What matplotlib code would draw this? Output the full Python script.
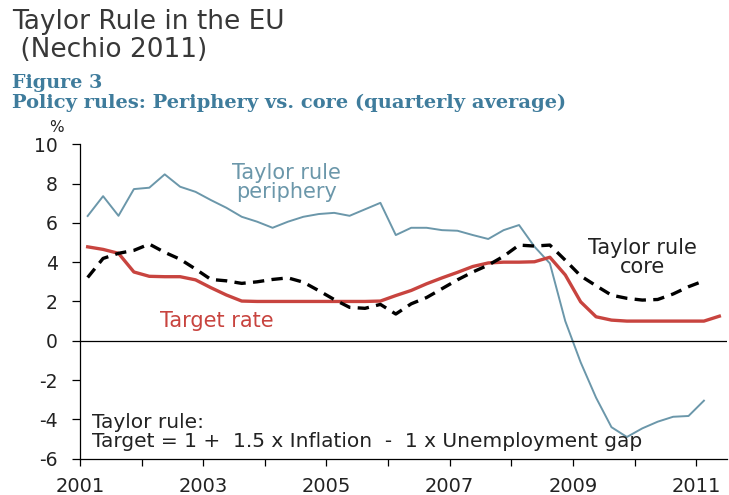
import numpy as np
import matplotlib
matplotlib.use("Agg")
import matplotlib.pyplot as plt

plt.rcParams["axes.unicode_minus"] = False

# quarterly averages, 2001Q1 onward
periphery = [6.35, 7.36, 6.36, 7.72, 7.79, 8.47, 7.84, 7.58, 7.16, 6.77,
             6.31, 6.06, 5.75, 6.06, 6.31, 6.45, 6.51, 6.36, 6.69, 7.02,
             5.38, 5.75, 5.75, 5.63, 5.60, 5.38, 5.18, 5.63, 5.89, 4.79,
             3.94, 1.00, -1.10, -2.90, -4.40, -4.90, -4.46, -4.12, -3.87, -3.83,
             -3.05]
core = [3.22, 4.19, 4.45, 4.60, 4.92, 4.50, 4.15, 3.65, 3.12, 3.05,
        2.92, 3.00, 3.12, 3.20, 2.98, 2.55, 2.10, 1.70, 1.65, 1.85,
        1.36, 1.88, 2.20, 2.65, 3.10, 3.50, 3.85, 4.30, 4.87, 4.82,
        4.87, 4.10, 3.30, 2.80, 2.32, 2.16, 2.07, 2.10, 2.38, 2.75,
        3.05]
target = [4.78, 4.65, 4.45, 3.50, 3.28, 3.26, 3.26, 3.10, 2.70, 2.33,
          2.02, 2.00, 2.00, 2.00, 2.00, 2.00, 2.00, 2.00, 2.00, 2.02,
          2.30, 2.56, 2.90, 3.20, 3.48, 3.78, 3.96, 4.00, 4.00, 4.02,
          4.25, 3.35, 1.98, 1.22, 1.05, 1.00, 1.00, 1.00, 1.00, 1.00,
          1.00, 1.25]
years = list(range(2001, 2012))
yticks = [-6, -4, -2, 0, 2, 4, 6, 8, 10]

def quarter_x(n):
    return 2001.125 + 0.25 * np.arange(n)

blue = "#6b97aa"
red = "#c8443f"
head = "#3f7c9c"
ink = "#222222"

fig = plt.figure(figsize=(7.29, 4.95), dpi=100)
ax = fig.add_axes([0.1097, 0.0735, 0.8876, 0.635])

ax.plot(quarter_x(len(periphery)), periphery, color=blue, lw=1.4)
ax.plot(quarter_x(len(target)), target, color=red, lw=2.4)
ax.plot(quarter_x(len(core)), core, color="black", lw=2.4, dashes=(3.4, 2.2))
ax.axhline(0, color="black", lw=0.9)

ax.set_xlim(2001, 2011.5)
ax.set_ylim(-6, 10)
ax.set_xticks(years)
ax.set_xticklabels([str(y) if y % 2 == 1 else "" for y in years])
ax.set_yticks(yticks)

for s in ["top", "right"]:
    ax.spines[s].set_visible(False)
for s in ["left", "bottom"]:
    ax.spines[s].set_linewidth(0.9)
ax.tick_params(axis="y", direction="out", length=6, width=0.9, pad=10,
               labelsize=13.5, colors="black", labelcolor=ink)
ax.tick_params(axis="x", direction="out", length=5, width=0.9, pad=8,
               labelsize=14, colors="black", labelcolor=ink)

ax.text(2004.35, 8.06, "Taylor rule\nperiphery", color=blue, fontsize=15,
        ha="center", va="center", linespacing=0.95)
ax.text(2010.13, 4.25, "Taylor rule\ncore", color=ink, fontsize=15,
        ha="center", va="center", linespacing=0.95)
ax.text(2003.22, 0.98, "Target rate", color=red, fontsize=15,
        ha="center", va="center")
ax.text(2001.2, -4.65, "Taylor rule:\nTarget = 1 +  1.5 x Inflation  -  1 x Unemployment gap",
        color=ink, fontsize=14.5, ha="left", va="center", linespacing=0.98)

fig.text(0.016, 0.956, "Taylor Rule in the EU", fontsize=19, color="#383838",
         ha="left", va="center")
fig.text(0.016, 0.899, " (Nechio 2011)", fontsize=19, color="#383838",
         ha="left", va="center")
fig.text(0.016, 0.832, "Figure 3", fontsize=13.8, color=head, family="DejaVu Serif",
         weight="bold", ha="left", va="center")
fig.text(0.016, 0.792, "Policy rules: Periphery vs. core (quarterly average)", fontsize=14,
         color=head, family="DejaVu Serif", weight="bold", ha="left", va="center")
fig.text(0.078, 0.743, "%", fontsize=11, color=ink, ha="center", va="center")

fig.savefig("out.png", dpi=100)
